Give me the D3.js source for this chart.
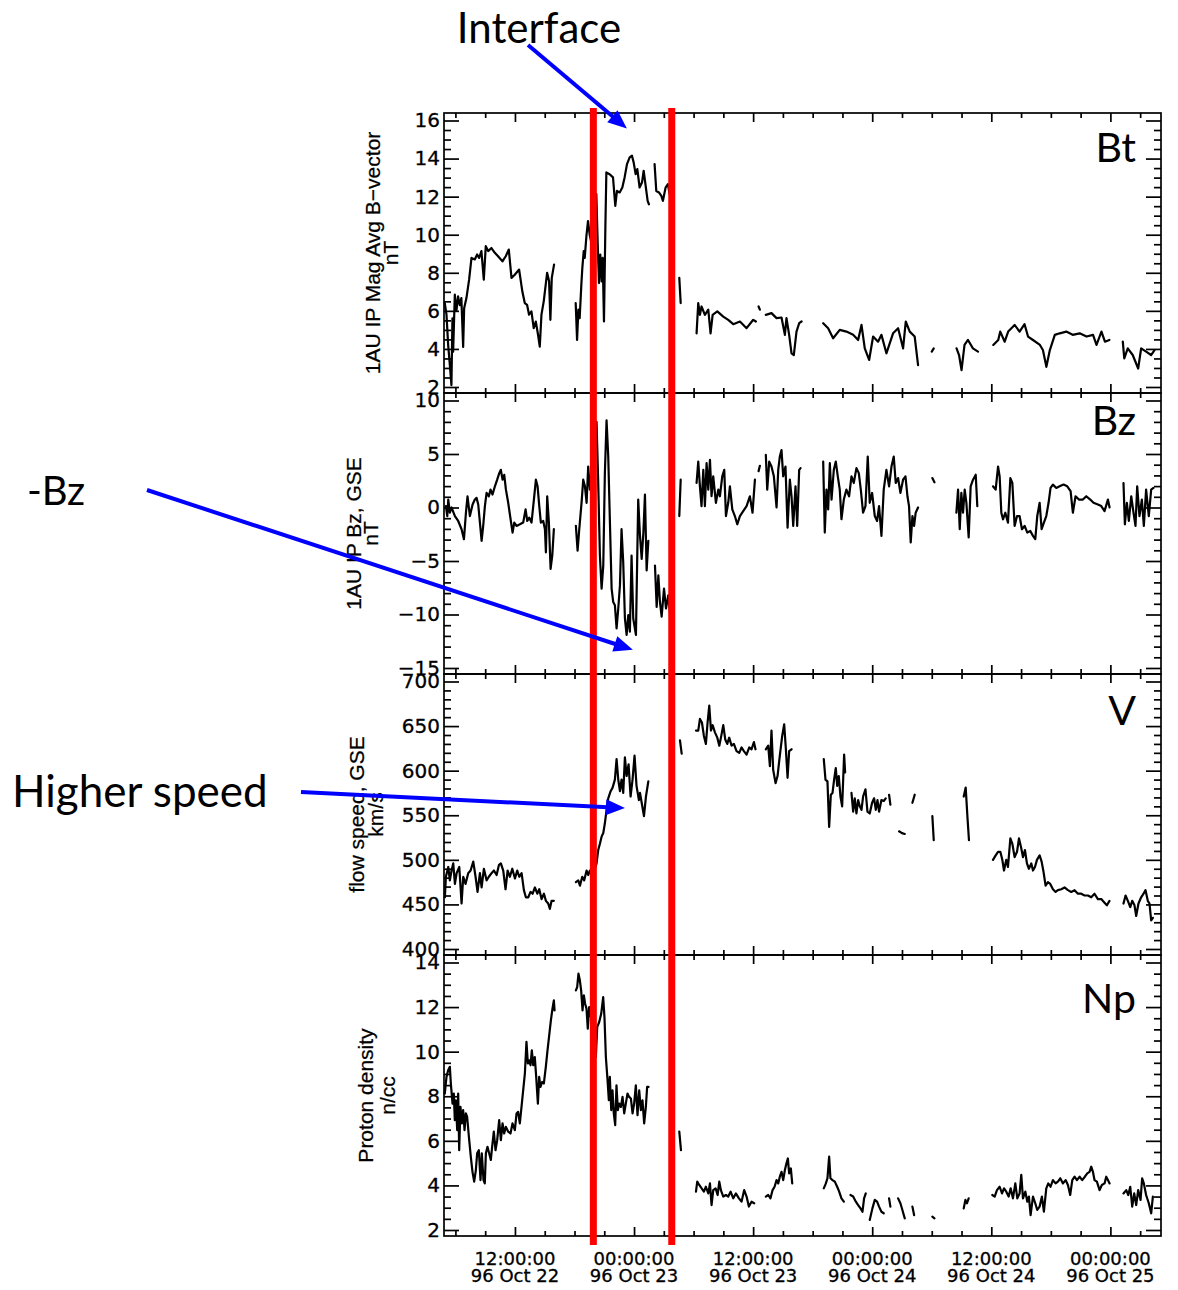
<!DOCTYPE html>
<html><head><meta charset="utf-8">
<script src="https://cdn.jsdelivr.net/npm/d3@7"></script>
<style>body{margin:0;background:#fff}</style>
</head><body>
<svg id="c" width="1178" height="1290" xmlns="http://www.w3.org/2000/svg"></svg>
<script>
// ---------- DATA (hours since 1996-10-22 00:00 UT, value); null = data gap ----------
const btSeries = [
[4.93,6.41],[5.1,5.8],[5.27,4.2],[5.44,3.15],[5.6,2.1],[5.7,5.6],[5.77,3.85],[5.94,6.85],[6.1,6.0],[6.27,6.76],[6.44,6.3],[6.6,6.67],[6.78,4.1],[6.88,6.14],[7.11,6.67],[7.38,7.64],[7.62,8.78],[7.95,8.7],[8.19,8.96],[8.39,8.78],[8.62,9.14],[8.86,7.64],[9.06,9.4],[9.3,9.14],[9.63,9.3],[9.97,9.05],[10.3,8.87],[10.74,8.6],[11.07,8.87],[11.38,9.22],[11.65,7.73],[11.98,7.9],[12.42,8.17],[12.75,7.0],[12.99,6.41],[13.22,6.32],[13.42,5.8],[13.66,5.97],[13.89,5.09],[14.1,5.44],[14.33,4.73],[14.5,4.12],[14.67,5.8],[14.9,6.5],[15.1,7.38],[15.24,8.0],[15.44,7.55],[15.57,5.53],[15.71,7.73],[15.94,8.43],
null,
[18.12,6.41],[18.26,4.47],[18.39,6.06],[18.52,5.62],[18.69,7.38],[18.79,8.26],[18.93,9.14],[19.03,8.78],[19.2,9.93],[19.36,10.72],[19.53,10.0],[19.7,9.57],[19.95,11.0],[20.2,12.13],[20.34,9.49],[20.47,7.46],[20.6,8.96],[20.74,7.55],[20.84,8.78],[20.97,5.44],[21.11,10.37],[21.21,13.27],[21.54,13.18],[21.88,13.01],[22.11,11.51],[22.28,12.3],[22.55,12.22],[22.82,12.48],[23.05,13.01],[23.29,13.71],[23.56,14.06],[23.79,14.15],[23.96,13.8],[24.16,13.18],[24.33,13.45],[24.56,12.48],[24.8,12.74],[24.97,13.36],[25.17,12.57],[25.37,11.78],[25.5,11.6],
null,
[26.07,13.71],[26.24,12.3],[26.51,12.22],[26.75,12.04],[26.91,11.78],[27.18,12.48],[27.41,12.66],[27.58,12.13],
null,
[28.56,7.73],[28.7,6.41],
null,
[30.3,4.82],[30.47,6.41],[30.64,5.79],[30.8,6.23],[31.14,5.79],[31.48,6.06],[31.71,4.82],[31.92,5.79],[32.39,5.97],[32.99,5.7],[33.49,5.53],[34.0,5.3],[34.67,5.44],[35.34,5.09],[36.01,5.53],[36.28,5.44],
null,
[36.55,6.23],[36.68,6.06],
null,
[37.28,5.79],[37.85,5.88],[38.36,5.62],[38.86,5.65],[39.2,4.74],[39.36,5.62],[39.63,4.74],[39.87,3.77],[40.1,3.68],[40.37,4.91],[40.64,5.35],[40.88,5.44],
null,
[43.06,5.35],[43.56,5.09],[44.06,4.56],[44.73,5.0],[45.4,4.91],[46.08,4.74],[46.58,4.47],[46.92,5.26],[47.25,4.03],[47.69,3.42],[48.09,4.65],[48.59,4.38],[48.93,4.74],[49.43,3.77],[50.1,4.82],[50.61,5.09],[51.11,4.03],[51.38,5.44],[51.78,4.91],[52.28,4.65],[52.62,3.15],
null,
[54.0,3.86],[54.2,4.03],
null,
[56.5,4.03],[56.75,3.68],[57.0,2.89],[57.3,4.21],[57.65,4.47],[58.15,4.03],[58.66,3.86],
null,
[60.2,4.21],[60.7,4.47],[60.9,4.91],[61.35,4.38],[61.7,4.91],[62.35,5.26],[62.85,4.91],[63.35,5.3],[63.7,4.65],[64.2,4.47],[64.9,4.21],[65.2,3.94],[65.55,3.06],[65.9,3.94],[66.4,4.74],[66.9,4.82],[67.55,4.91],[68.2,4.74],[68.9,4.82],[69.6,4.65],[70.25,4.74],[70.6,4.21],[71.1,4.91],[71.45,4.38],[71.9,4.47],
null,
[73.25,4.38],[73.4,3.5],[73.75,4.03],[74.25,3.68],[74.8,2.97],[75.1,4.03],[75.6,3.86],[76.1,3.68],[76.45,3.94]
];

const bzSeries = [
[5.04,0.13],[5.18,-0.8],[5.28,0.74],[5.44,-0.49],[5.61,0.0],[5.95,-0.8],[6.28,-1.26],[6.62,-2.03],[6.86,-2.96],[7.06,-0.49],[7.22,1.05],[7.46,-0.8],[7.73,0.28],[7.96,0.74],[8.13,0.9],[8.3,0.28],[8.47,-1.41],[8.64,-3.11],[8.8,-1.72],[8.97,0.13],[9.14,1.36],[9.37,1.05],[9.54,1.67],[9.74,1.21],[9.98,1.98],[10.21,2.6],[10.42,3.21],[10.58,3.52],[10.75,2.6],[10.92,3.06],[11.09,1.67],[11.32,0.44],[11.56,-1.1],[11.76,-2.34],[11.93,-1.41],[12.16,-1.72],[12.5,-1.57],[12.83,-1.41],[13.07,-0.18],[13.24,-1.26],[13.44,-0.95],[13.67,-1.41],[13.91,0.74],[14.11,2.6],[14.28,1.98],[14.45,0.13],[14.61,-1.41],[14.85,-1.26],[15.02,-2.03],[15.12,-4.19],[15.25,1.05],[15.42,-1.41],[15.59,-5.74],[15.76,-4.5],[15.92,-2.03],
null,
[18.14,-1.72],[18.31,-4.04],[18.48,-2.03],[18.71,0.44],[18.88,2.6],[19.05,1.98],[19.22,0.44],[19.38,3.83],[19.55,1.67],[19.9,5.5],[20.22,8.0],[20.39,2.29],[20.56,-4.5],[20.73,-7.59],[20.9,-5.43],[21.06,3.21],[21.23,8.15],[21.4,4.76],[21.57,-1.41],[21.74,-7.59],[21.9,-8.83],[22.07,-9.13],[22.24,-11.3],[22.41,-9.44],[22.58,-7.28],[22.74,-2.03],[22.91,-5.12],[23.08,-10.37],[23.25,-11.91],[23.42,-10.06],[23.58,-11.6],[23.75,-4.5],[23.92,-10.37],[24.19,-11.91],[24.42,0.74],[24.6,-2.65],[24.77,-4.81],[24.94,-2.34],[25.1,1.21],[25.27,-5.89],[25.44,-3.11],
null,
[26.11,-5.43],[26.28,-9.29],[26.45,-6.35],[26.61,-8.83],[26.78,-10.21],[27.02,-7.59],[27.22,-9.44],[27.45,-8.2],[27.62,-9.9],
null,
[28.56,-0.8],[28.7,2.6],
null,
[30.3,2.29],[30.47,4.29],[30.64,1.98],[30.8,0.13],[30.98,3.52],[31.14,0.13],[31.31,4.14],[31.48,1.67],[31.65,4.45],[31.81,1.05],[31.98,2.91],[32.25,0.44],[32.49,1.67],[32.65,1.05],[32.89,2.91],[33.09,3.52],[33.26,-0.8],[33.49,0.44],[33.66,1.98],[33.9,-0.18],[34.16,-0.8],[34.4,-1.57],[34.67,-0.8],[35.0,-0.34],[35.34,0.13],[35.67,1.05],[35.94,-0.49],[36.18,2.6],
null,
[36.55,3.4],[36.68,3.9],
null,
[37.28,4.91],[37.42,1.67],[37.62,4.29],[37.85,3.83],[38.09,2.91],[38.36,0.0],[38.53,3.52],[38.69,4.76],[38.86,5.37],[39.03,2.91],[39.26,3.83],[39.47,-1.88],[39.7,2.6],[39.87,1.05],[40.04,-1.72],[40.27,1.98],[40.44,-1.72],[40.64,3.52],[40.78,3.68],
null,
[43.06,4.29],[43.22,-2.34],[43.39,1.67],[43.56,-0.18],[43.73,4.14],[43.9,0.74],[44.13,3.52],[44.33,4.29],[44.53,2.91],[44.73,1.67],[44.9,-1.1],[45.14,0.74],[45.4,1.67],[45.67,1.05],[45.91,2.91],[46.14,2.29],[46.41,3.68],[46.65,3.21],[46.85,1.67],[47.08,-0.49],[47.32,0.13],[47.55,4.76],[47.75,0.44],[47.99,1.36],[48.26,-0.8],[48.49,-1.26],[48.69,0.13],[48.93,-2.65],[49.16,1.67],[49.43,3.52],[49.7,1.98],[49.94,3.83],[50.17,4.76],[50.37,2.29],[50.61,2.75],[50.84,1.36],[51.11,2.6],[51.35,2.91],[51.55,1.05],[51.71,0.13],[51.88,-3.27],[52.05,-0.8],[52.22,-1.72],[52.38,-0.49],[52.62,0.0],
null,
[54.06,2.75],[54.27,2.35],
null,
[56.48,-0.49],[56.65,1.67],[56.82,-2.03],[56.98,1.36],[57.15,-0.49],[57.32,1.67],[57.49,0.44],[57.72,-2.8],[57.92,1.98],[58.16,2.6],[58.43,3.06],[58.59,0.13],
null,
[60.17,1.98],[60.44,1.67],[60.68,3.83],[60.84,2.91],[61.01,-0.49],[61.18,-1.1],[61.41,-0.49],[61.68,-1.41],[61.92,2.75],[62.12,2.29],[62.35,-1.72],[62.59,-0.8],[62.85,-0.8],[63.09,-2.03],[63.36,-1.72],[63.63,-2.34],[63.93,-2.19],[64.2,-2.65],[64.43,-2.96],[64.63,-0.8],[64.87,0.44],[65.07,-2.03],[65.3,-1.41],[65.54,-0.8],[65.77,0.44],[65.97,1.83],[66.21,2.14],[66.55,1.83],[66.88,1.98],[67.28,2.14],[67.65,1.98],[67.99,1.52],[68.22,-0.49],[68.49,1.05],[68.83,0.74],[69.23,0.74],[69.57,1.05],[69.97,0.74],[70.3,0.44],[70.74,0.28],[71.08,0.13],[71.41,-0.34],[71.75,0.74],[71.92,0.0],
null,
[73.32,2.29],[73.46,-1.57],[73.66,0.44],[73.86,-1.26],[74.1,1.05],[74.33,-0.49],[74.53,-1.72],[74.7,1.98],[74.93,-0.8],[75.17,0.74],[75.37,-1.72],[75.6,1.67],[75.87,-0.8],[76.11,1.67],[76.34,1.83]
];

const flowSpeedSeries = [
[4.94,458],[5.04,481],[5.28,492],[5.44,477],[5.61,488],[5.78,496],[5.95,473],[6.12,485],[6.39,492],[6.62,451],[6.79,481],[7.02,473],[7.29,485],[7.53,488],[7.8,498],[8.03,481],[8.23,464],[8.47,485],[8.64,469],[8.87,490],[9.14,477],[9.37,481],[9.64,485],[9.88,488],[10.15,483],[10.38,494],[10.58,496],[10.82,488],[11.05,467],[11.26,488],[11.49,481],[11.73,490],[12.0,479],[12.23,488],[12.43,481],[12.67,485],[12.9,466],[13.1,458],[13.34,458],[13.57,464],[13.78,462],[14.01,469],[14.25,462],[14.45,467],[14.68,456],[14.92,462],[15.12,454],[15.35,451],[15.52,445],[15.69,454],[15.92,454],
null,
[18.14,475],[18.38,477],[18.55,471],[18.78,481],[18.98,477],[19.22,488],[19.38,483],[19.55,488],[19.9,484],[20.22,496],[20.39,511],[20.56,518],[20.73,526],[20.9,530],[21.06,541],[21.23,556],[21.4,569],[21.64,577],[21.84,581],[22.07,590],[22.24,613],[22.41,590],[22.58,577],[22.74,590],[22.91,575],[23.08,615],[23.25,594],[23.45,607],[23.65,571],[23.85,590],[24.05,617],[24.25,583],[24.49,567],[24.6,575],[24.77,564],[25.0,549],[25.2,571],[25.44,588],
null,
[28.63,634],[28.8,619],
null,
[30.24,645],[30.47,645],[30.64,658],[30.84,654],[31.04,639],[31.24,630],[31.41,654],[31.58,673],[31.75,645],[31.92,651],[32.15,643],[32.39,637],[32.59,628],[32.79,639],[32.99,651],[33.19,635],[33.39,630],[33.59,637],[33.83,628],[34.06,630],[34.33,622],[34.6,620],[34.83,626],[35.07,622],[35.34,618],[35.61,626],[35.84,624],[36.08,632],[36.24,624],
null,
[37.28,624],[37.52,628],[37.69,605],[37.85,645],[38.02,601],[38.26,586],[38.46,594],[38.69,617],[38.93,639],[39.13,652],[39.3,624],[39.47,592],[39.63,622],[39.87,624],
null,
[43.12,613],[43.29,590],[43.49,588],[43.66,537],[43.83,573],[44.0,575],[44.16,590],[44.33,603],[44.47,583],[44.63,594],[44.8,571],[44.97,560],[45.17,618],[45.27,598],
null,
[45.91,575],[46.08,554],[46.24,569],[46.41,552],[46.58,567],[46.75,560],[46.92,556],[47.08,571],[47.32,579],[47.52,554],[47.75,552],[47.99,564],[48.19,569],[48.36,556],[48.53,567],[48.69,554],[48.93,567],[49.16,566],[49.36,569],
null,
[49.7,573],[49.83,562],
null,
[50.71,532],[51.0,530],[51.28,529],
null,
[52.05,564],[52.28,573],
null,
[54.06,549],[54.2,522],
null,
[57.22,571],[57.42,581],[57.59,549],[57.75,522],
null,
[60.17,500],[60.44,505],[60.68,509],[60.91,509],[61.11,500],[61.28,488],[61.51,500],[61.68,492],[61.92,524],[62.12,518],[62.35,503],[62.59,509],[62.79,524],[63.02,513],[63.19,503],[63.39,511],[63.59,496],[63.79,490],[64.03,496],[64.2,488],[64.4,492],[64.6,500],[64.87,505],[65.07,498],[65.27,486],[65.47,471],[65.71,475],[65.94,473],[66.21,467],[66.48,464],[66.71,466],[67.05,467],[67.38,469],[67.72,466],[68.06,464],[68.39,466],[68.73,462],[69.06,462],[69.4,460],[69.74,460],[70.07,458],[70.4,462],[70.74,456],[71.08,456],[71.41,452],[71.65,449],[71.91,454],
null,
[73.32,451],[73.53,460],[73.76,454],[74.0,447],[74.2,454],[74.43,449],[74.6,437],[74.83,451],[75.1,458],[75.34,462],[75.54,466],[75.77,454],[75.94,451],[76.11,432],[76.28,435]
];

const protonDensitySeries = [
[4.93,8.12],[5.1,8.87],[5.27,9.17],[5.44,9.32],[5.54,8.57],[5.71,7.67],[5.84,8.12],[5.94,6.93],[6.04,7.82],[6.18,6.48],[6.28,8.12],[6.38,5.58],[6.51,7.52],[6.65,6.78],[6.78,7.38],[6.92,6.48],[7.05,7.23],[7.18,7.08],[7.39,6.03],[7.55,5.29],[7.72,4.61],[7.89,4.17],[8.06,4.69],[8.19,5.44],[8.36,5.58],[8.53,4.24],[8.66,5.44],[8.83,4.24],[8.96,4.09],[9.07,5.44],[9.23,5.73],[9.4,5.44],[9.57,5.14],[9.7,5.73],[9.87,6.41],[10.04,5.58],[10.21,6.03],[10.41,6.93],[10.58,6.03],[10.75,6.78],[10.91,6.33],[11.08,6.63],[11.32,6.41],[11.55,6.33],[11.75,6.78],[11.99,6.48],[12.16,7.23],[12.32,7.3],[12.49,6.78],[12.66,7.52],[12.83,8.27],[13.0,9.02],[13.16,10.44],[13.3,9.47],[13.43,9.61],[13.57,9.39],[13.7,10.06],[13.84,9.39],[14.0,9.76],[14.14,8.87],[14.31,7.67],[14.44,8.87],[14.57,8.42],[14.74,8.64],[14.91,8.57],[15.11,9.32],[15.28,10.06],[15.45,10.73],[15.62,11.4],[15.78,11.93],[15.92,12.3],[15.99,11.85],
null,
[18.14,12.75],[18.27,12.9],[18.4,13.5],[18.54,13.2],[18.67,12.75],[18.81,11.85],[18.94,12.53],[19.07,12.15],[19.21,11.93],[19.34,11.03],[19.48,12.0],[19.8,11.2],[20.15,9.76],[20.29,11.11],[20.49,11.33],[20.69,11.7],[20.89,12.45],[21.02,11.55],[21.16,9.76],[21.33,8.72],[21.46,7.82],[21.56,8.87],[21.7,7.38],[21.83,8.27],[21.96,7.23],[22.1,6.7],[22.23,8.49],[22.37,7.38],[22.5,7.67],[22.67,7.52],[22.84,7.97],[23.01,7.23],[23.17,7.67],[23.34,8.12],[23.51,7.97],[23.68,7.9],[23.85,7.23],[24.01,7.67],[24.18,8.49],[24.35,7.15],[24.52,8.27],[24.69,7.38],[24.85,7.82],[25.02,6.78],[25.19,7.52],[25.32,8.42],[25.46,8.42],
null,
[28.56,6.41],[28.73,5.58],
null,
[30.24,3.72],[30.37,4.17],[30.57,4.02],[30.81,3.87],[31.04,3.72],[31.24,3.94],[31.48,3.64],[31.65,4.09],[31.81,3.12],[31.98,3.79],[32.22,3.87],[32.42,3.57],[32.59,4.17],[32.75,3.79],[32.99,3.5],[33.26,3.57],[33.49,3.5],[33.73,3.72],[34.0,3.42],[34.26,3.64],[34.57,3.42],[34.83,3.27],[35.1,3.79],[35.34,3.5],[35.57,3.05],[35.84,3.27],[36.11,3.2],
null,
[37.28,3.5],[37.52,3.57],[37.75,3.42],[37.96,3.79],[38.16,3.94],[38.36,4.24],[38.53,4.09],[38.69,4.39],[38.86,4.61],[39.03,4.24],[39.2,4.69],[39.36,4.99],[39.5,5.21],[39.63,4.54],[39.8,4.76],[39.94,4.09],
null,
[43.12,3.87],[43.33,4.09],[43.49,4.32],[43.66,5.29],[43.79,4.32],[44.0,4.24],[44.23,4.17],[44.47,3.94],[44.67,3.72],[44.9,3.42],[45.14,3.27],
null,
[45.81,3.57],[46.08,3.5],[46.35,3.27],[46.58,3.12],[46.82,2.97],[47.02,2.82],[47.18,3.42],[47.35,3.64],
null,
[47.75,2.45],[48.02,2.97],[48.26,3.35],[48.49,3.27],[48.69,3.05],[48.93,2.82],[49.16,2.75],
null,
[49.7,3.42],[49.83,3.05],
null,
[50.61,3.42],[50.84,3.2],[51.04,2.9],[51.28,2.52],
null,
[52.05,3.05],[52.22,2.67],
null,
[54.06,2.6],[54.27,2.52],
null,
[57.22,2.97],[57.39,3.35],[57.55,3.2],[57.72,3.42],
null,
[60.1,3.57],[60.34,3.5],[60.57,3.79],[60.84,3.94],[61.08,3.64],[61.28,3.87],[61.51,3.72],[61.75,3.5],[61.95,3.87],[62.18,3.42],[62.42,4.09],[62.62,3.42],[62.85,3.64],[63.02,4.47],[63.19,3.42],[63.43,3.72],[63.63,3.27],[63.79,3.5],[63.96,2.67],[64.2,3.5],[64.43,3.2],[64.63,2.9],[64.87,3.05],[65.1,3.5],[65.3,2.82],[65.54,3.87],[65.74,4.09],[65.97,3.94],[66.21,4.24],[66.48,4.09],[66.71,4.17],[66.95,4.32],[67.22,4.09],[67.49,4.24],[67.72,4.02],[67.95,3.57],[68.16,4.24],[68.39,4.39],[68.63,4.24],[68.9,4.39],[69.16,4.24],[69.43,4.39],[69.67,4.54],[69.9,4.61],[70.07,4.84],[70.24,4.61],[70.4,4.24],[70.64,4.17],[70.91,3.79],[71.14,4.02],[71.41,4.09],[71.58,4.39],[71.75,4.24],[71.92,4.09],
null,
[73.32,3.64],[73.6,3.79],[73.8,3.57],[74.0,3.94],[74.2,3.05],[74.4,3.64],[74.6,3.12],[74.8,3.79],[75.04,3.35],[75.2,4.32],[75.37,4.09],[75.6,3.57],[75.87,3.2],[76.11,2.75],[76.28,3.5]
];

// Axis ticks and labels
const timeDomain = [4.85, 77.1];              // hours since 96 Oct 22 00:00
const xMajorHours = [12, 24, 36, 48, 60, 72];
const xTickTime = ["12:00:00","00:00:00","12:00:00","00:00:00","12:00:00","00:00:00"];
const xTickDate = ["96 Oct 22","96 Oct 23","96 Oct 23","96 Oct 24","96 Oct 24","96 Oct 25"];
const xMinorHours = [6,9,15,18,21,27,30,33,39,42,45,51,54,57,63,66,69,75];
const btTicks = [2,4,6,8,10,12,14,16];
const bzTicks = [-15,-10,-5,0,5,10];
const vTicks = [400,450,500,550,600,650,700];
const npTicks = [2,4,6,8,10,12,14];
const minorSteps = [0.5, 1, 10, 0.5];
const panelNames = ["Bt","Bz","V","Np"];
const titleLine1 = ["1AU IP Mag Avg B\u2212vector","1AU IP Bz, GSE","flow speed, GSE","Proton density"];
const titleLine2 = ["nT","nT","km/s","n/cc"];
const boundaryHours = [19.9, 27.8];           // red lines
// annotation arrow tips in data coordinates: [hour, value, panelIndex]
const arrowTips = [[23.28, 15.58, 0], [23.88, -13.3, 1], [23.08, 558, 2]];

// ---------- LAYOUT ----------
const svg = d3.select("#c");
const L = 444, R = 1161;
const panelEdges = [113, 393, 674, 955, 1236];
const tickFont = "DejaVu Sans, sans-serif";
const x = d3.scaleLinear().domain(timeDomain).range([L, R]);

const seriesList = [btSeries, bzSeries, flowSpeedSeries, protonDensitySeries];
const tickList = [btTicks, bzTicks, vTicks, npTicks];
const titleBase1 = [380, 361, 364, 373];
const titleBase2 = [398, 378, 383, 395];
const labelBaseline = [162, 435, 725, 1013];
const yScales = [];

seriesList.forEach((series, i) => {
  const top = panelEdges[i], bot = panelEdges[i + 1];
  const ticks = tickList[i];
  const y = d3.scaleLinear().domain(d3.extent(ticks)).range([bot - 6, top + 7.5]);
  yScales.push(y);
  const minor = d3.range(ticks[0], ticks[ticks.length - 1] + 1e-9, minorSteps[i])
    .filter(v => !ticks.some(t => Math.abs(t - v) < 1e-9));

  const g = svg.append("g");
  const axStyle = sel => {
    sel.select(".domain").remove();
    sel.selectAll("line").attr("stroke", "#000").attr("stroke-width", 1.7);
  };
  // left axis
  g.append("g").attr("transform", `translate(${L},0)`)
    .call(d3.axisLeft(y).tickValues(ticks).tickSizeInner(-15).tickSizeOuter(0).tickPadding(4))
    .call(axStyle)
    .call(s => s.selectAll("text").attr("font-family", tickFont).attr("font-size", 20)
      .attr("fill", "#000").attr("stroke", "#000").attr("stroke-width", 0.3));
  g.append("g").attr("transform", `translate(${L},0)`)
    .call(d3.axisLeft(y).tickValues(minor).tickSizeInner(-7).tickSizeOuter(0).tickFormat(""))
    .call(axStyle);
  // right axis
  g.append("g").attr("transform", `translate(${R},0)`)
    .call(d3.axisRight(y).tickValues(ticks).tickSizeInner(-15).tickSizeOuter(0).tickFormat(""))
    .call(axStyle);
  g.append("g").attr("transform", `translate(${R},0)`)
    .call(d3.axisRight(y).tickValues(minor).tickSizeInner(-7).tickSizeOuter(0).tickFormat(""))
    .call(axStyle);
  // top / bottom time ticks
  g.append("g").attr("transform", `translate(0,${top})`)
    .call(d3.axisTop(x).tickValues(xMajorHours).tickSizeInner(-9).tickSizeOuter(0).tickFormat("")).call(axStyle);
  g.append("g").attr("transform", `translate(0,${top})`)
    .call(d3.axisTop(x).tickValues(xMinorHours).tickSizeInner(-5).tickSizeOuter(0).tickFormat("")).call(axStyle);
  g.append("g").attr("transform", `translate(0,${bot})`)
    .call(d3.axisBottom(x).tickValues(xMajorHours).tickSizeInner(-9).tickSizeOuter(0).tickFormat("")).call(axStyle);
  g.append("g").attr("transform", `translate(0,${bot})`)
    .call(d3.axisBottom(x).tickValues(xMinorHours).tickSizeInner(-5).tickSizeOuter(0).tickFormat("")).call(axStyle);

  // frame
  g.append("rect").attr("x", L).attr("y", top).attr("width", R - L).attr("height", bot - top)
    .attr("fill", "none").attr("stroke", "#000").attr("stroke-width", 1.7);

  // data line
  const line = d3.line().defined(d => d !== null).x(d => x(d[0])).y(d => y(d[1]));
  g.append("path").datum(series).attr("d", line)
    .attr("fill", "none").attr("stroke", "#000").attr("stroke-width", 2.2)
    .attr("stroke-linejoin", "round").attr("stroke-linecap", "round");

  // axis title (two lines, rotated)
  const cy = (top + bot) / 2;
  g.append("text").attr("transform", `translate(${titleBase1[i]},${cy}) rotate(-90)`)
    .attr("text-anchor", "middle").attr("font-family", "Liberation Sans, Arial, sans-serif")
    .attr("font-size", 21).attr("stroke", "#000").attr("stroke-width", 0.25).text(titleLine1[i]);
  g.append("text").attr("transform", `translate(${titleBase2[i]},${cy}) rotate(-90)`)
    .attr("text-anchor", "middle").attr("font-family", "Liberation Sans, Arial, sans-serif")
    .attr("font-size", 21).attr("stroke", "#000").attr("stroke-width", 0.25).text(titleLine2[i]);

  // panel label
  g.append("text").attr("x", 1136).attr("y", labelBaseline[i]).attr("text-anchor", "end")
    .attr("font-family", "Lato, sans-serif").attr("font-size", 41).text(panelNames[i]);
});

// bottom time labels
const lab = svg.append("g").attr("font-family", tickFont).attr("font-size", 18)
  .attr("text-anchor", "middle").attr("stroke", "#000").attr("stroke-width", 0.3);
xMajorHours.forEach((h, k) => {
  lab.append("text").attr("x", x(h)).attr("y", 1265).text(xTickTime[k]);
  lab.append("text").attr("x", x(h)).attr("y", 1282).text(xTickDate[k]);
});

// red boundary lines
svg.append("g").selectAll("line").data(boundaryHours).join("line")
  .attr("x1", d => x(d)).attr("x2", d => x(d)).attr("y1", 108).attr("y2", 1245)
  .attr("stroke", "#ff0000").attr("stroke-width", 7);

// annotations
function arrow(x1, y1, x2, y2) {
  const dx = x2 - x1, dy = y2 - y1, len = Math.hypot(dx, dy);
  const ux = dx / len, uy = dy / len, hl = 19, hw = 8;
  const bx = x2 - ux * hl, by = y2 - uy * hl;
  const a = svg.append("g");
  a.append("line").attr("x1", x1).attr("y1", y1).attr("x2", bx + ux * 2).attr("y2", by + uy * 2)
    .attr("stroke", "#0000ff").attr("stroke-width", 4);
  a.append("path").attr("d", `M${x2},${y2}L${bx - uy * hw},${by + ux * hw}L${bx + uy * hw},${by - ux * hw}Z`)
    .attr("fill", "#0000ff");
}
const tipXY = t => [x(t[0]), yScales[t[2]](t[1])];
let p = tipXY(arrowTips[0]); arrow(528, 45, p[0], p[1]);
p = tipXY(arrowTips[1]); arrow(147, 490, p[0], p[1]);
p = tipXY(arrowTips[2]); arrow(301, 792, p[0], p[1]);

const ann = svg.append("g").attr("font-family", "Lato, sans-serif").attr("fill", "#000");
ann.append("text").attr("x", 539).attr("y", 43).attr("text-anchor", "middle").attr("font-size", 42).text("Interface");
ann.append("text").attr("x", 27).attr("y", 505).attr("font-size", 40).text("-Bz");
ann.append("text").attr("x", 12).attr("y", 807).attr("font-size", 44).text("Higher speed");
</script>
</body></html>
